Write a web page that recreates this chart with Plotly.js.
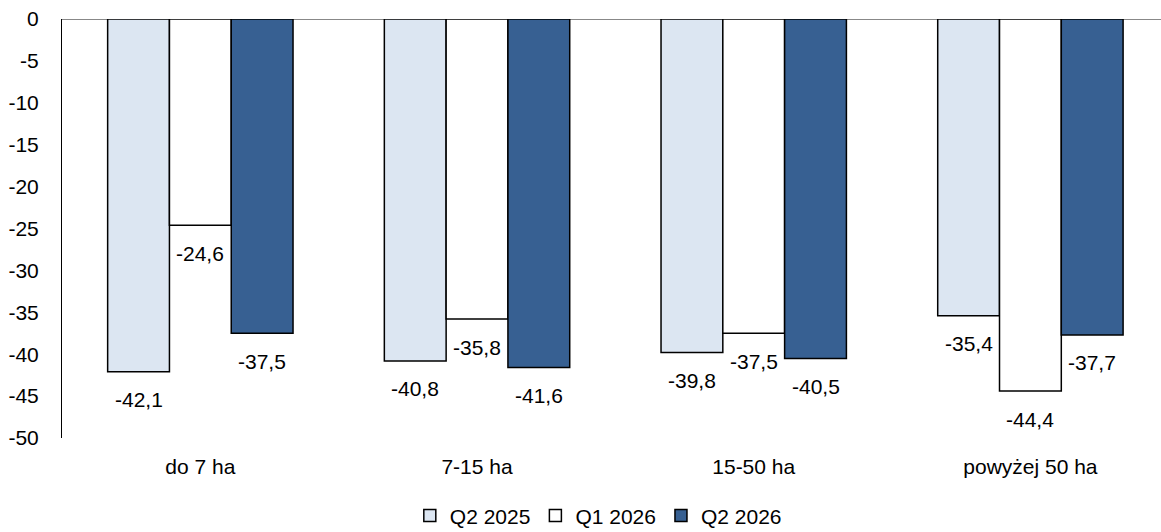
<!DOCTYPE html>
<html>
<head>
<meta charset="utf-8">
<script src="https://cdn.plot.ly/plotly-3.0.1.min.js"></script>
<style>html,body{margin:0;padding:0;background:#fff;}#chart{width:1161px;height:532px;}</style>
</head>
<body>
<div id="chart"></div>
<script>
const categories = ["do 7 ha", "7-15 ha", "15-50 ha", "powyżej 50 ha"];
const seriesNames = ["Q2 2025", "Q1 2026", "Q2 2026"];
const q2_2025 = [-42.1, -40.8, -39.8, -35.4];
const q1_2026 = [-24.6, -35.8, -37.5, -44.4];
const q2_2026 = [-37.5, -41.6, -40.5, -37.7];
const yTicks = [0, -5, -10, -15, -20, -25, -30, -35, -40, -45, -50];

const seriesValues = [q2_2025, q1_2026, q2_2026];
const colors = ["#dce6f2", "#ffffff", "#376092"];
const FONT = "Liberation Sans, Arial, sans-serif";
const FS = 21;
const bargap = 0.33;
const fmt = v => v.toFixed(1).replace(".", ",");

const xs = categories.map((c, i) => i);
const traces = seriesValues.map((vals, j) => ({
  type: "bar",
  name: seriesNames[j],
  x: xs,
  y: vals,
  marker: {color: colors[j], line: {color: "#000", width: 1.5}},
  hoverinfo: "none"
}));

const barW = (1 - bargap) / seriesValues.length;
const annotations = [];
seriesValues.forEach((vals, j) => {
  vals.forEach((v, i) => {
    annotations.push({
      x: i + (j - (seriesValues.length - 1) / 2) * barW,
      y: v, xref: "x", yref: "y",
      text: fmt(v), showarrow: false,
      yshift: -28, font: {family: FONT, size: FS, color: "#000"}
    });
  });
});

const layout = {
  width: 1161, height: 532,
  margin: {l: 62, r: 0, t: 19, b: 94, autoexpand: false},
  paper_bgcolor: "#fff", plot_bgcolor: "#fff",
  barmode: "group", bargap: bargap, bargroupgap: 0,
  font: {family: FONT, size: FS, color: "#000"},
  showlegend: true,
  legend: {orientation: "h", x: 0.488, xanchor: "center", y: -0.186, yanchor: "middle",
           font: {family: FONT, size: FS, color: "#000"}, traceorder: "normal",
           itemwidth: 30, tracegroupgap: 0},
  xaxis: {
    range: [-0.5, 3.472], tickmode: "array", tickvals: xs, ticktext: categories,
    showline: false, showgrid: false, zeroline: false, ticks: "", ticklabelstandoff: 14,
    tickfont: {family: FONT, size: FS, color: "#000"}, fixedrange: true
  },
  yaxis: {
    range: [-50, 0], tickmode: "array", tickvals: yTicks, ticktext: yTicks.map(String),
    showline: true, linecolor: "#000", linewidth: 1, showgrid: false,
    zeroline: true, zerolinecolor: "#888", zerolinewidth: 1,
    ticks: "", ticklabelstandoff: 18,
    tickfont: {family: FONT, size: FS, color: "#000"}, fixedrange: true
  },
  annotations: annotations
};

Plotly.newPlot("chart", traces, layout, {displayModeBar: false, staticPlot: true});
</script>
</body>
</html>
